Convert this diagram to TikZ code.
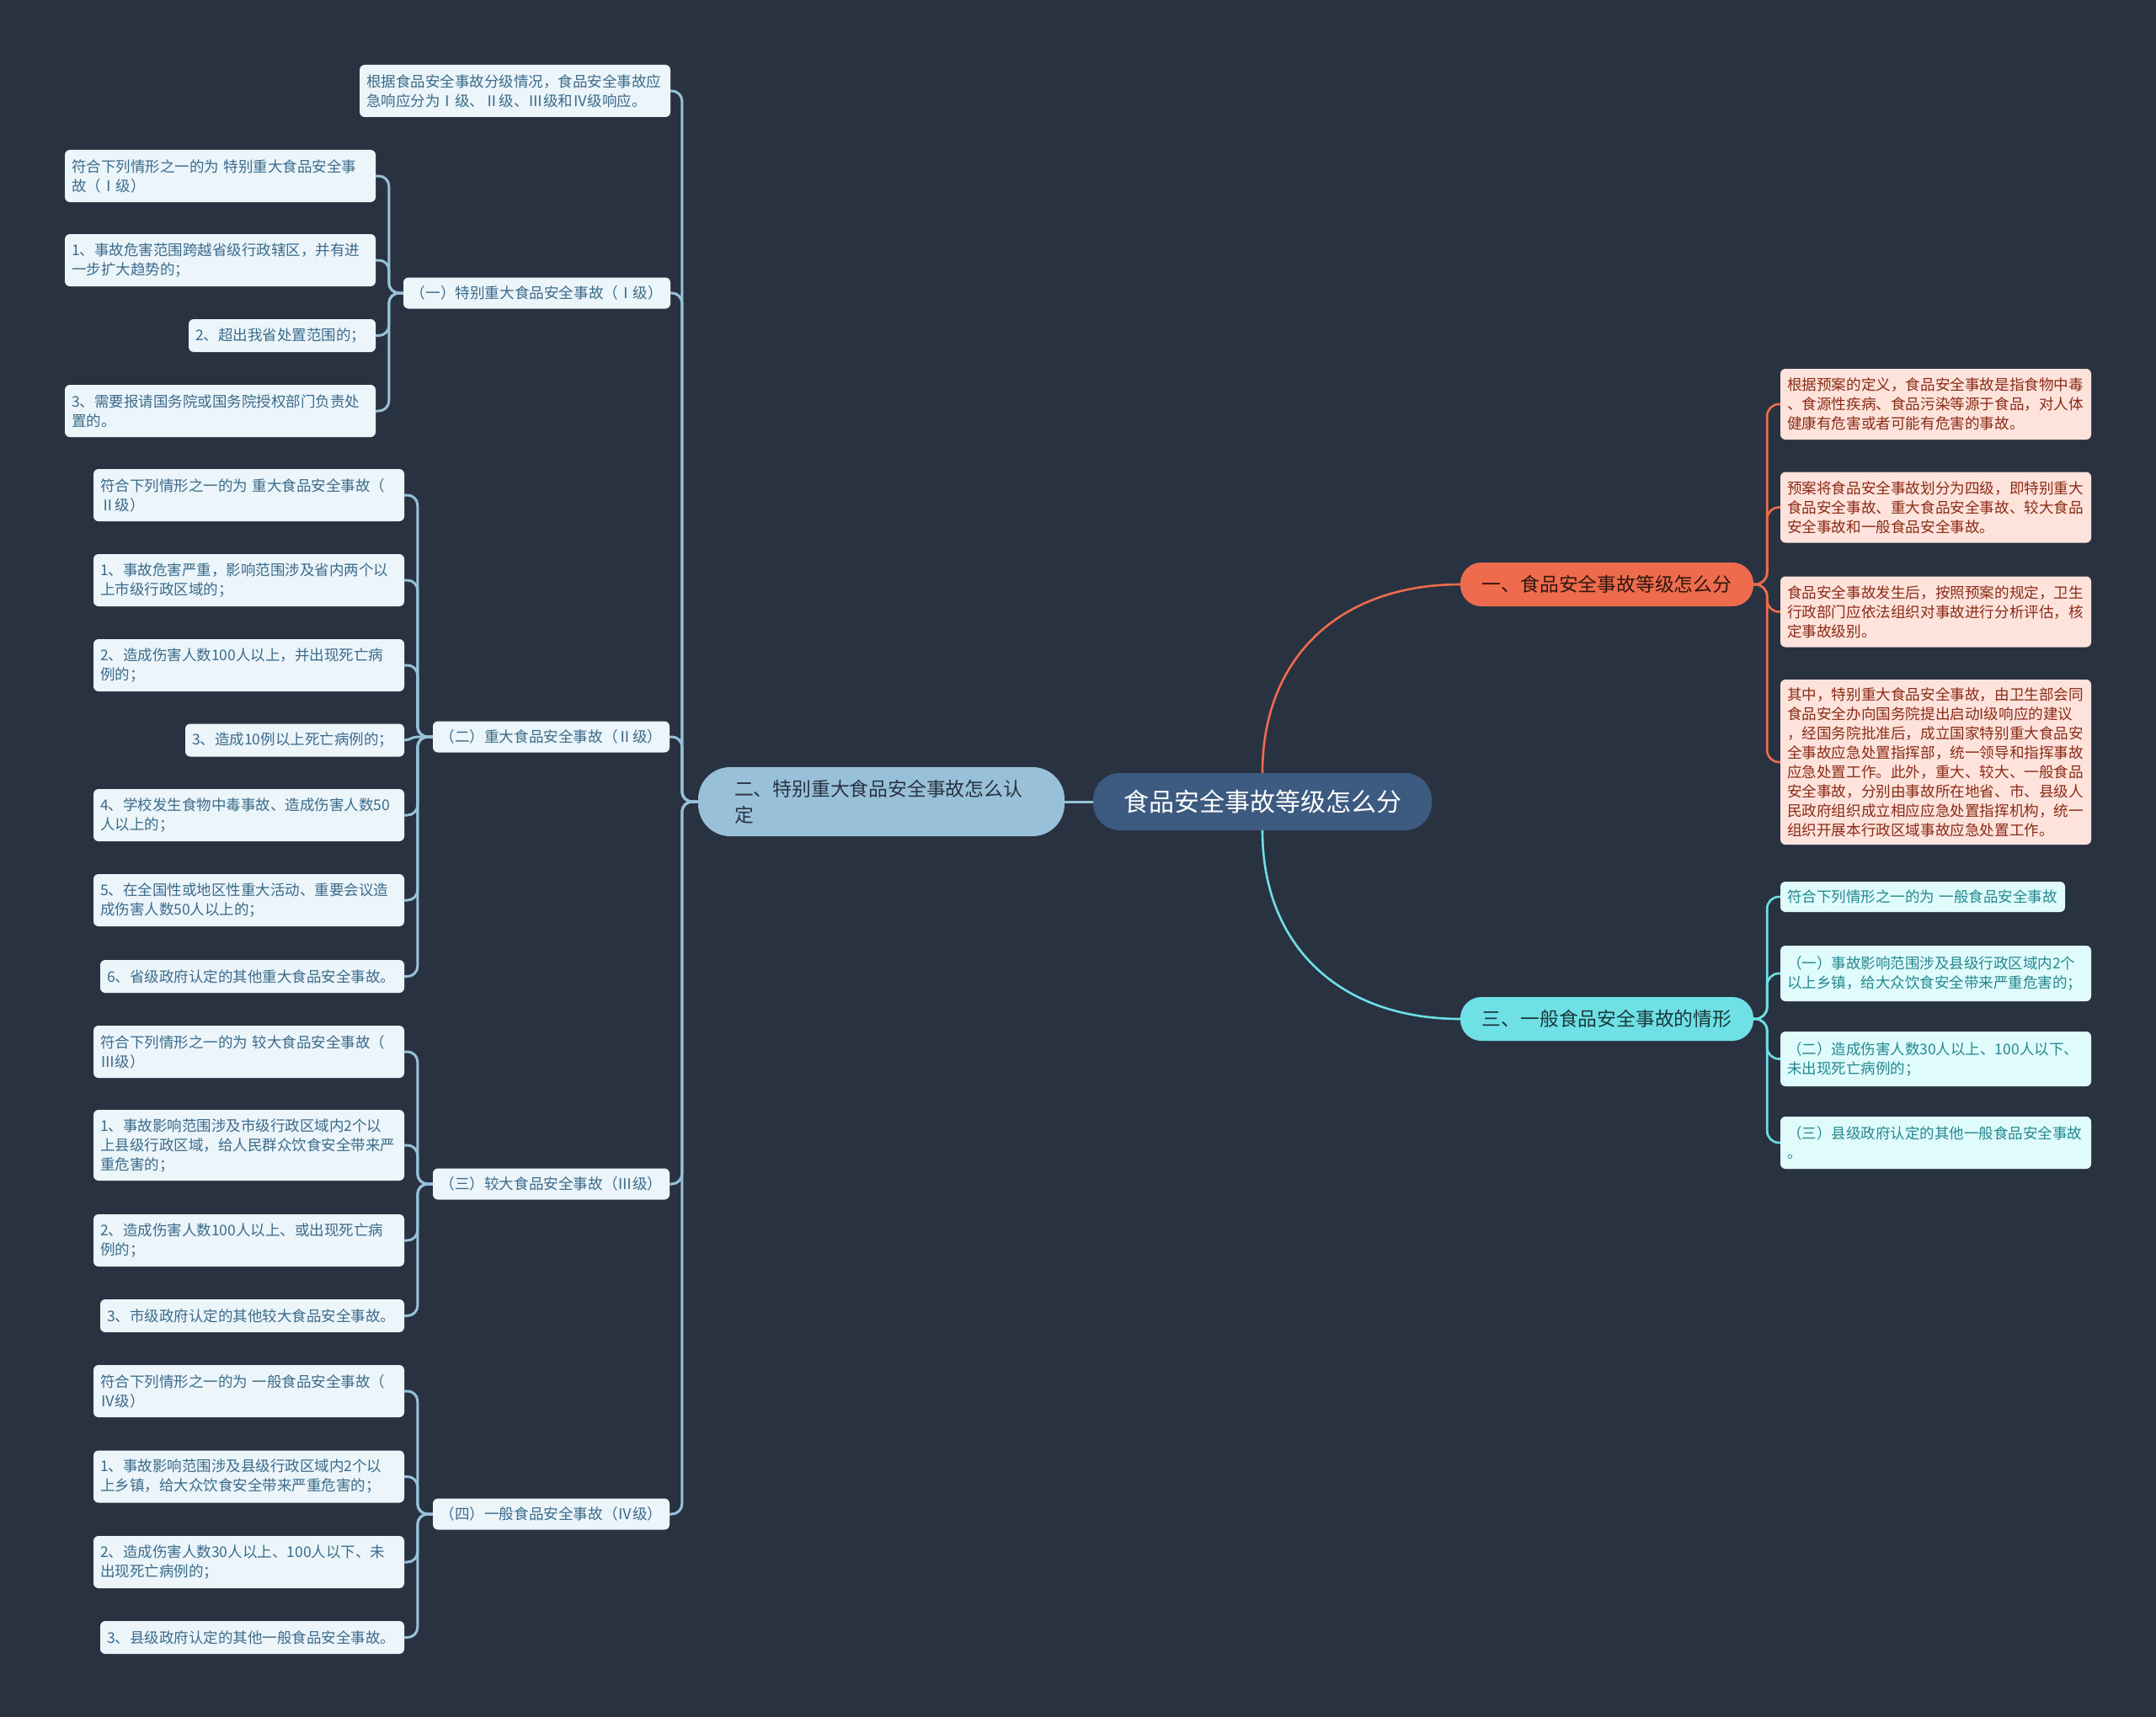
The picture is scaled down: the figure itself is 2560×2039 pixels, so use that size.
\documentclass[tikz,border=0pt]{standalone}
\usepackage{fontspec}
\setmainfont{Noto Sans CJK SC}

\definecolor{bgc}{HTML}{293241}
\definecolor{rootc}{HTML}{3D5A80}
\definecolor{bluec}{HTML}{98C1D9}
\definecolor{orangec}{HTML}{EE6C4D}
\definecolor{cyanc}{HTML}{6EE0E6}
\definecolor{bleaf}{HTML}{ECF5FA}
\definecolor{btext}{HTML}{3A6B8B}
\definecolor{oleaf}{HTML}{FDE3DC}
\definecolor{otext}{HTML}{8C2B16}
\definecolor{cleaf}{HTML}{E0FBFC}
\definecolor{ctext}{HTML}{23888F}

\tikzset{
  rootnode/.style={fill=rootc, text=white, rounded corners=32, minimum width=402, minimum height=68,
    font=\fontsize{30}{36}\selectfont},
  branch/.style={rounded corners=25, minimum width=348, minimum height=52,
    font=\fontsize{22.8}{31}\selectfont},
  bleafnode/.style={fill=bleaf, text=btext, rounded corners=6, inner xsep=8, inner ysep=4,
    text width=353, align=left, font=\fontsize{17.5}{23}\selectfont},
  midnode/.style={bleafnode, minimum height=37, align=center, font=\fontsize{17.6}{22}\selectfont},
  oleafnode/.style={bleafnode, fill=oleaf, text=otext, font=\fontsize{17.6}{23}\selectfont},
  cleafnode/.style={bleafnode, fill=cleaf, text=ctext},
  h1/.style={minimum height=39},
  h2/.style={minimum height=62},
  h3/.style={minimum height=84},
  lline/.style={draw=bluec, line width=3, rounded corners=12},
  oline/.style={draw=orangec, line width=2.6, rounded corners=14},
  cline/.style={draw=cyanc, line width=2.6, rounded corners=14}
}

\begin{document}
\begin{tikzpicture}[x=1pt, y=-1pt]
  \fill[bgc] (0,0) rectangle (2560,2039);

  % centre and the three branches
  \node[rootnode] (root) at (1499,952) {食品安全事故等级怎么分};
  \node[branch, fill=orangec, text=black!80!orangec] (grade) at (1908,694) {一、食品安全事故等级怎么分};
  \node[branch, fill=cyanc, text=black!75!cyanc] (general) at (1908,1210) {三、一般食品安全事故的情形};
  \node[branch, fill=bluec, text=bgc, rounded corners=38, minimum width=0, minimum height=82,
    inner xsep=43, text width=349, align=left] (major) at (1046.5,952) {二、特别重大食品安全事故怎么认\\定};

  \draw[lline] (root.west) -- (major.east);
  \draw[oline] (root.north) .. controls +(0,-140) and +(-140,0) .. (grade.west);
  \draw[cline] (root.south) .. controls +(0,140) and +(-140,0) .. (general.west);

  % right side, orange
  \node[oleafnode, h3] (def) at (2298.5,480) {根据预案的定义，食品安全事故是指食物中毒\\、食源性疾病、食品污染等源于食品，对人体\\健康有危害或者可能有危害的事故。};
  \node[oleafnode, h3] (four) at (2298.5,602.5) {预案将食品安全事故划分为四级，即特别重大\\食品安全事故、重大食品安全事故、较大食品\\安全事故和一般食品安全事故。};
  \node[oleafnode, h3] (after) at (2298.5,726.5) {食品安全事故发生后，按照预案的规定，卫生\\行政部门应依法组织对事故进行分析评估，核\\定事故级别。};
  \node[oleafnode, minimum height=196] (among) at (2298.5,905) {其中，特别重大食品安全事故，由卫生部会同\\食品安全办向国务院提出启动I级响应的建议\\，经国务院批准后，成立国家特别重大食品安\\全事故应急处置指挥部，统一领导和指挥事故\\应急处置工作。此外，重大、较大、一般食品\\安全事故，分别由事故所在地省、市、县级人\\民政府组织成立相应应急处置指挥机构，统一\\组织开展本行政区域事故应急处置工作。};

  \path (grade.east) ++(16,0) coordinate (grades);
  \draw[oline] (grade.east) -- (grades) |- (def.west);
  \draw[oline] (grade.east) -- (grades) |- (four.west);
  \draw[oline] (grade.east) -- (grades) |- (after.west);
  \draw[oline] (grade.east) -- (grades) |- (among.west);

  % right side, cyan
  \node[cleafnode, text width=322, minimum height=36] (gen0) at (2283,1065) {符合下列情形之一的为 一般食品安全事故};
  \node[cleafnode, minimum height=66] (gen1) at (2298.5,1156) {（一）事故影响范围涉及县级行政区域内2个\\以上乡镇，给大众饮食安全带来严重危害的；};
  \node[cleafnode, minimum height=65] (gen2) at (2298.5,1257.5) {（二）造成伤害人数30人以上、100人以下、\\未出现死亡病例的；};
  \node[cleafnode, h2] (gen3) at (2298.5,1357) {（三）县级政府认定的其他一般食品安全事故\\。};

  \path (general.east) ++(16,0) coordinate (generals);
  \draw[cline] (general.east) -- (generals) |- (gen0.west);
  \draw[cline] (general.east) -- (generals) |- (gen1.west);
  \draw[cline] (general.east) -- (generals) |- (gen2.west);
  \draw[cline] (general.east) -- (generals) |- (gen3.west);

  % left side, second level
  \node[bleafnode, h2] (resp) at (611.5,108) {根据食品安全事故分级情况，食品安全事故应\\急响应分为Ⅰ级、Ⅱ级、Ⅲ级和Ⅳ级响应。};
  \node[midnode, text width=301] (lv1) at (637.5,348) {（一）特别重大食品安全事故（Ⅰ级）};
  \node[midnode, text width=265] (lv2) at (654.5,875) {（二）重大食品安全事故（Ⅱ级）};
  \node[midnode, text width=265] (lv3) at (654.5,1406) {（三）较大食品安全事故（Ⅲ级）};
  \node[midnode, text width=265] (lv4) at (654.5,1798) {（四）一般食品安全事故（Ⅳ级）};

  \path (major.west) ++(-19,0) coordinate (majors);
  \draw[lline] (major.west) -- (majors) |- (resp.east);
  \draw[lline] (major.west) -- (majors) |- (lv1.east);
  \draw[lline] (major.west) -- (majors) |- (lv2.east);
  \draw[lline] (major.west) -- (majors) |- (lv3.east);
  \draw[lline] (major.west) -- (majors) |- (lv4.east);

  % level I
  \node[bleafnode, h2] (lv1a) at (261.5,209) {符合下列情形之一的为 特别重大食品安全事\\故（Ⅰ级）};
  \node[bleafnode, h2] (lv1b) at (261.5,309) {1、事故危害范围跨越省级行政辖区，并有进\\一步扩大趋势的；};
  \node[bleafnode, h1, text width=206] (lv1c) at (335,398.5) {2、超出我省处置范围的；};
  \node[bleafnode, h2] (lv1d) at (261.5,488) {3、需要报请国务院或国务院授权部门负责处\\置的。};

  \path (lv1.west) ++(-17,0) coordinate (lv1s);
  \draw[lline] (lv1.west) -- (lv1s) |- (lv1a.east);
  \draw[lline] (lv1.west) -- (lv1s) |- (lv1b.east);
  \draw[lline] (lv1.west) -- (lv1s) |- (lv1c.east);
  \draw[lline] (lv1.west) -- (lv1s) |- (lv1d.east);

  % level II
  \node[bleafnode, h2] (lv2a) at (295.5,588) {符合下列情形之一的为 重大食品安全事故（\\Ⅱ级）};
  \node[bleafnode, h2] (lv2b) at (295.5,689) {1、事故危害严重，影响范围涉及省内两个以\\上市级行政区域的；};
  \node[bleafnode, h2] (lv2c) at (295.5,790) {2、造成伤害人数100人以上，并出现死亡病\\例的；};
  \node[bleafnode, h1, text width=244] (lv2d) at (350,879) {3、造成10例以上死亡病例的；};
  \node[bleafnode, h2] (lv2e) at (295.5,968) {4、学校发生食物中毒事故、造成伤害人数50\\人以上的；};
  \node[bleafnode, h2] (lv2f) at (295.5,1069) {5、在全国性或地区性重大活动、重要会议造\\成伤害人数50人以上的；};
  \node[bleafnode, h1, text width=345] (lv2g) at (299.5,1159.5) {6、省级政府认定的其他重大食品安全事故。};

  \path (lv2.west) ++(-18,0) coordinate (lv2s);
  \draw[lline] (lv2.west) -- (lv2s) |- (lv2a.east);
  \draw[lline] (lv2.west) -- (lv2s) |- (lv2b.east);
  \draw[lline] (lv2.west) -- (lv2s) |- (lv2c.east);
  \draw[lline, rounded corners=0] (lv2.west) -- (lv2s) to[out=180, in=0] (lv2d.east);
  \draw[lline] (lv2.west) -- (lv2s) |- (lv2e.east);
  \draw[lline] (lv2.west) -- (lv2s) |- (lv2f.east);
  \draw[lline] (lv2.west) -- (lv2s) |- (lv2g.east);

  % level III
  \node[bleafnode, h2] (lv3a) at (295.5,1249) {符合下列情形之一的为 较大食品安全事故（\\Ⅲ级）};
  \node[bleafnode, h3] (lv3b) at (295.5,1360) {1、事故影响范围涉及市级行政区域内2个以\\上县级行政区域，给人民群众饮食安全带来严\\重危害的；};
  \node[bleafnode, h2] (lv3c) at (295.5,1473) {2、造成伤害人数100人以上、或出现死亡病\\例的；};
  \node[bleafnode, h1, text width=345] (lv3d) at (299.5,1562.5) {3、市级政府认定的其他较大食品安全事故。};

  \path (lv3.west) ++(-18,0) coordinate (lv3s);
  \draw[lline] (lv3.west) -- (lv3s) |- (lv3a.east);
  \draw[lline] (lv3.west) -- (lv3s) |- (lv3b.east);
  \draw[lline] (lv3.west) -- (lv3s) |- (lv3c.east);
  \draw[lline] (lv3.west) -- (lv3s) |- (lv3d.east);

  % level IV
  \node[bleafnode, h2] (lv4a) at (295.5,1652) {符合下列情形之一的为 一般食品安全事故（\\Ⅳ级）};
  \node[bleafnode, h2] (lv4b) at (295.5,1753.5) {1、事故影响范围涉及县级行政区域内2个以\\上乡镇，给大众饮食安全带来严重危害的；};
  \node[bleafnode, h2] (lv4c) at (295.5,1855) {2、造成伤害人数30人以上、100人以下、未\\出现死亡病例的；};
  \node[bleafnode, h1, text width=345] (lv4d) at (299.5,1944.5) {3、县级政府认定的其他一般食品安全事故。};

  \path (lv4.west) ++(-18,0) coordinate (lv4s);
  \draw[lline] (lv4.west) -- (lv4s) |- (lv4a.east);
  \draw[lline] (lv4.west) -- (lv4s) |- (lv4b.east);
  \draw[lline] (lv4.west) -- (lv4s) |- (lv4c.east);
  \draw[lline] (lv4.west) -- (lv4s) |- (lv4d.east);
\end{tikzpicture}
\end{document}
